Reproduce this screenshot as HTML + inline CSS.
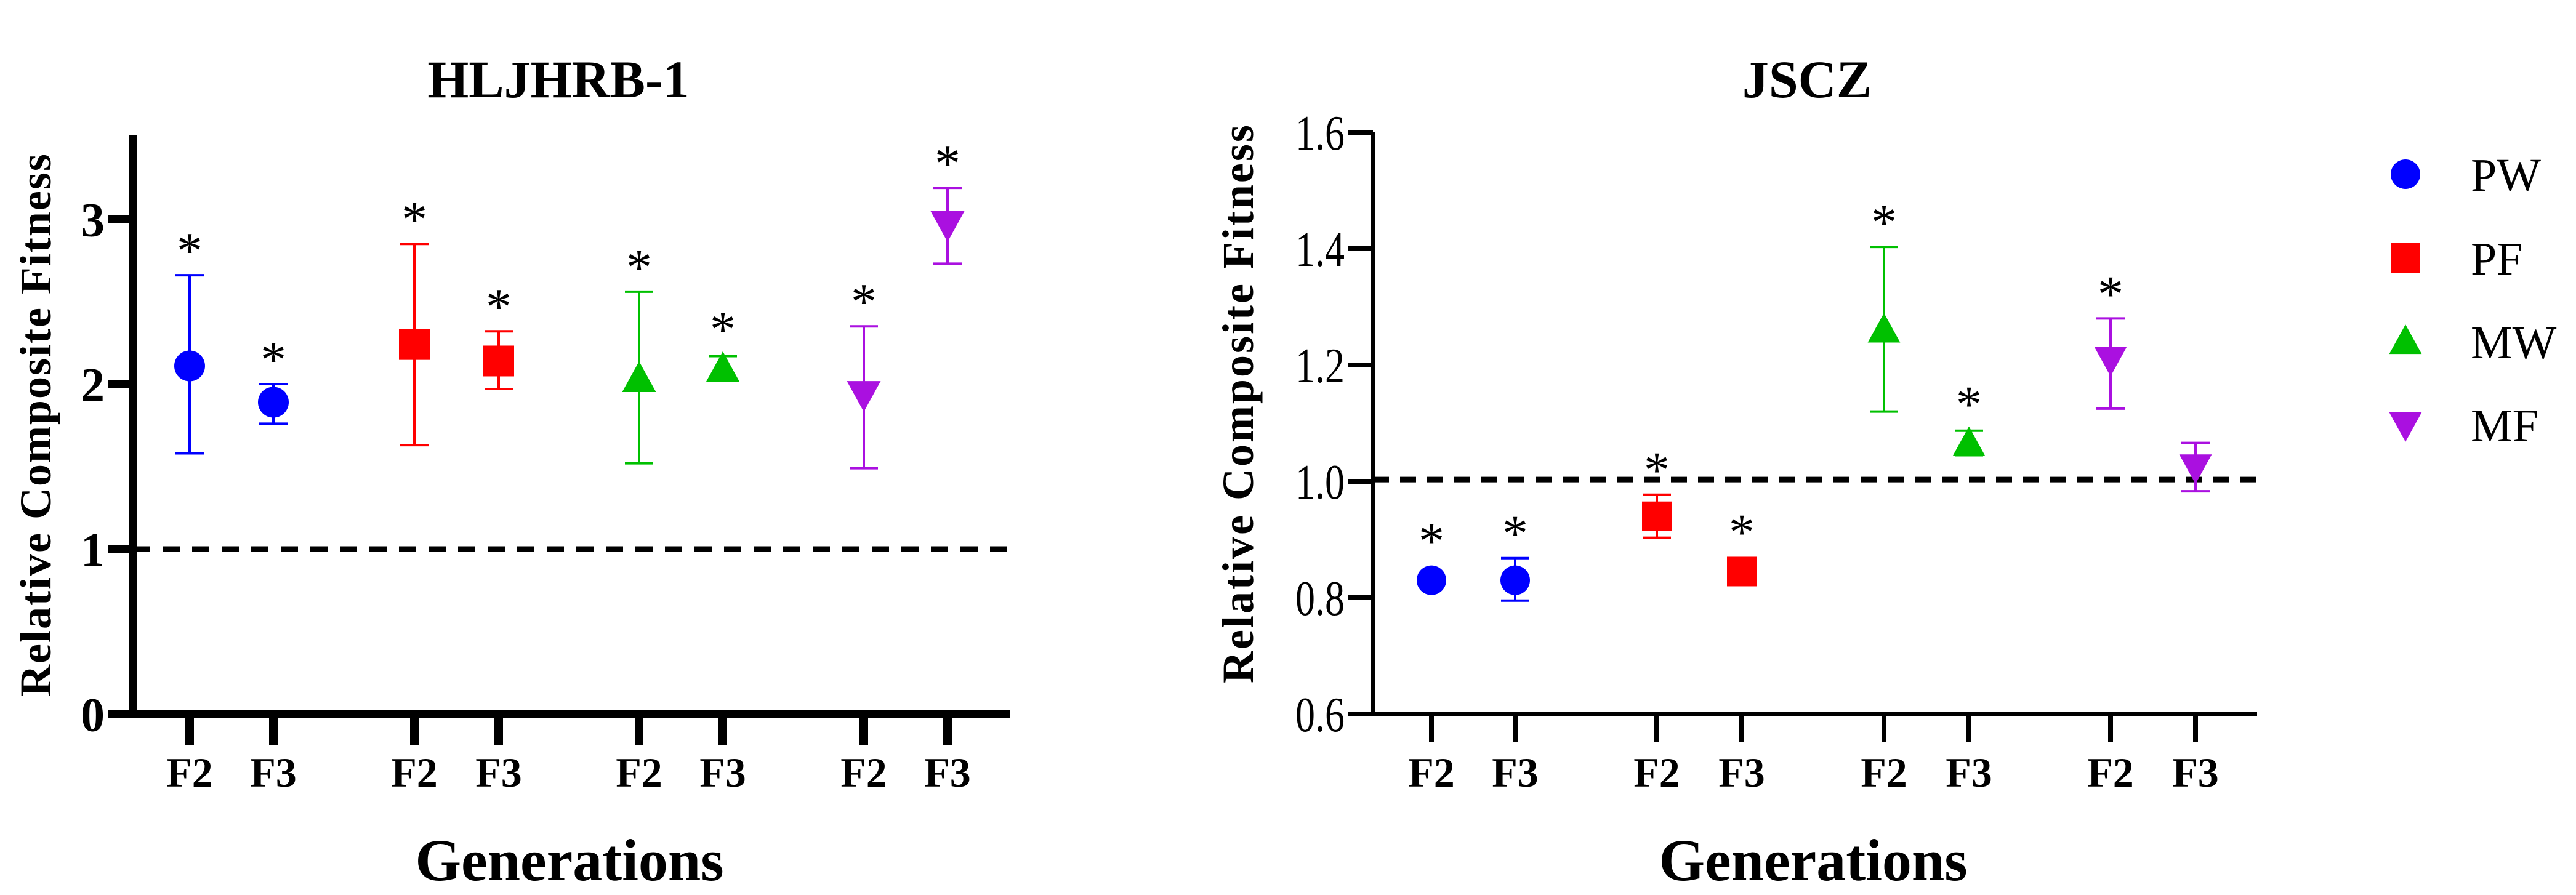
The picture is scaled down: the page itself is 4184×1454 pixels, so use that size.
<!DOCTYPE html>
<html><head><meta charset="utf-8"><style>
html,body{margin:0;padding:0;background:#fff;}
svg{display:block;}
text{font-family:"Liberation Serif",serif;}
</style></head><body>
<svg id="chart" width="4184" height="1454" viewBox="0 0 4184 1454" xmlns="http://www.w3.org/2000/svg">
<text x="907" y="158" font-size="86" font-weight="bold" text-anchor="middle">HLJHRB-1</text>
<text x="2935" y="158" font-size="86" font-weight="bold" text-anchor="middle">JSCZ</text>
<text transform="translate(82,690) rotate(-90)" font-size="72" font-weight="bold" text-anchor="middle" letter-spacing="2">Relative Composite Fitness</text>
<text transform="translate(2035,655) rotate(-90)" font-size="72" font-weight="bold" text-anchor="middle" letter-spacing="3">Relative Composite  Fitness</text>
<text x="925" y="1430" font-size="96" font-weight="bold" text-anchor="middle">Generations</text>
<text x="2945" y="1430" font-size="96" font-weight="bold" text-anchor="middle">Generations</text>
<g id="left"></g>
<g id="right"></g>
<g id="legend"></g>
</svg>
<script>
const groups = ["PW","PW","PF","PF","MW","MW","MF","MF"];
const gens = ["F2","F3","F2","F3","F2","F3","F2","F3"];
const colors = {PW:"#0000ff",PF:"#ff0000",MW:"#00c000",MF:"#aa10e0"};
const leftMean = [2.11,1.89,2.24,2.14,2.03,2.09,1.94,2.97];
const leftLow  = [1.58,1.76,1.63,1.97,1.52,2.03,1.49,2.73];
const leftHigh = [2.66,2.00,2.85,2.32,2.56,2.17,2.35,3.19];
const leftTicks = [0,1,2,3];
const rightMean = [0.83,0.83,0.94,0.845,1.26,1.065,1.21,1.025];
const rightLow  = [0.83,0.795,0.903,0.845,1.12,1.045,1.125,0.983];
const rightHigh = [0.83,0.868,0.977,0.845,1.403,1.087,1.28,1.066];
const rightTicks = ["0.6","0.8","1.0","1.2","1.4","1.6"];
const leftStars = [true,true,true,true,true,true,true,true];
const rightStars = [true,true,true,true,true,true,true,false];
const refLineLeft = 1.0;
const refLineRight = 1.003;
const NS="http://www.w3.org/2000/svg";
function mk(parent,tag,attrs){const e=document.createElementNS(NS,tag);for(const k in attrs)e.setAttribute(k,attrs[k]);parent.appendChild(e);return e;}
function marker(g,grp,cx,cy,s){
  const c=colors[grp];let e;
  if(grp==="PW") e=mk(g,"circle",{cx:cx,cy:cy,r:s*0.5,fill:c});
  else if(grp==="PF") e=mk(g,"rect",{x:cx-s/2,y:cy-s/2,width:s,height:s,fill:c});
  else if(grp==="MW") e=mk(g,"polygon",{points:`${cx},${cy-s*0.58} ${cx-s*0.55},${cy+s*0.42} ${cx+s*0.55},${cy+s*0.42}`,fill:c});
  else e=mk(g,"polygon",{points:`${cx},${cy+s*0.58} ${cx-s*0.55},${cy-s*0.42} ${cx+s*0.55},${cy-s*0.42}`,fill:c});
  return e;
}
function draw(cfg){
  const g=document.getElementById(cfg.id);
  const y=v=>cfg.y0-(v-cfg.vmin)*cfg.unit;
  const ya=mk(g,"line",{x1:cfg.ax,y1:cfg.top,x2:cfg.ax,y2:cfg.y0+cfg.aw/2,stroke:"#000","stroke-width":cfg.aw});
  
  
  const xa=mk(g,"line",{x1:cfg.ax-cfg.tl,y1:cfg.y0,x2:cfg.xend,y2:cfg.y0,stroke:"#000","stroke-width":cfg.aw});
  
  
  cfg.ticks.forEach(t=>{
    const v=parseFloat(t);const yy=y(v);
    const tk=mk(g,"line",{x1:cfg.ax-cfg.tl,y1:yy,x2:cfg.ax,y2:yy,stroke:"#000","stroke-width":cfg.aw});
    
    
    const tx=mk(g,"text",{x:0,y:0,transform:`translate(${cfg.ax-cfg.tl-6},${yy+cfg.tfs*0.35}) scale(${cfg.tsx},1)`,"font-size":cfg.tfs,"font-weight":cfg.tbold?"bold":"normal","text-anchor":"end"});
    tx.textContent=t;
    
    
  });
  const rl=mk(g,"line",{x1:cfg.ax,y1:y(cfg.ref),x2:cfg.xend,y2:y(cfg.ref),stroke:"#000","stroke-width":cfg.dw,"stroke-dasharray":cfg.dash});
  
  
  cfg.xs.forEach((x,i)=>{
    const tk=mk(g,"line",{x1:x,y1:cfg.y0,x2:x,y2:cfg.y0+cfg.xtl,stroke:"#000","stroke-width":cfg.aw});
    
    
    const lb=mk(g,"text",{x:x,y:cfg.y0+cfg.lbdy,"font-size":cfg.lfs,"font-weight":"bold","text-anchor":"middle"});
    lb.textContent=gens[i];
    
    
    const c=colors[groups[i]];
    const lo=y(cfg.low[i]),hi=y(cfg.high[i]);
    if(cfg.high[i]!==cfg.low[i]){
      const eb=mk(g,"path",{d:`M${x},${lo}V${hi}M${x-cfg.cap},${hi}H${x+cfg.cap}M${x-cfg.cap},${lo}H${x+cfg.cap}`,stroke:c,"stroke-width":cfg.ew,fill:"none"});
      
      
    }
    const m=marker(g,groups[i],x,y(cfg.mean[i]),cfg.ms);
    
    
    if(cfg.stars[i]){
      const top=Math.min(hi,y(cfg.mean[i])-cfg.ms/2);
      const st=mk(g,"text",{x:x,y:top-cfg.sdy,"font-size":cfg.sfs,"text-anchor":"middle"});
      st.textContent="*";
      
      
    }
  });
}
draw({id:"left",ax:216,top:220,y0:1160,vmin:0,unit:268,xend:1641,aw:14,tl:40,xtl:50,
  ticks:leftTicks.map(String),tfs:78,tbold:true,tsx:1,ref:refLineLeft,dw:9,dash:"28 20",
  xs:[308,444,673,810,1038,1174,1403,1539],mean:leftMean,low:leftLow,high:leftHigh,stars:leftStars,
  cap:23,ew:4,ms:50,lbdy:118,lfs:68,sfs:84,sdy:12});
draw({id:"right",ax:2230,top:215,y0:1160,vmin:0.6,unit:945,xend:3666,aw:8,tl:40,xtl:45,
  ticks:rightTicks,tfs:80,tbold:false,tsx:0.8,ref:refLineRight,dw:9,dash:"26 18",
  xs:[2325,2461,2691,2829,3060,3198,3428,3566],mean:rightMean,low:rightLow,high:rightHigh,stars:rightStars,
  cap:23,ew:4,ms:48,lbdy:118,lfs:68,sfs:84,sdy:12});
const legendNames=["PW","PF","MW","MF"];
const legendY=[283,419,555,690];
const lg=document.getElementById("legend");
legendNames.forEach((n,i)=>{
  const m=marker(lg,n,3907,legendY[i],48);
  
  
  const t=mk(lg,"text",{x:4013,y:legendY[i]+27,"font-size":76});
  t.textContent=n;
  
  
});
</script>
</body></html>
